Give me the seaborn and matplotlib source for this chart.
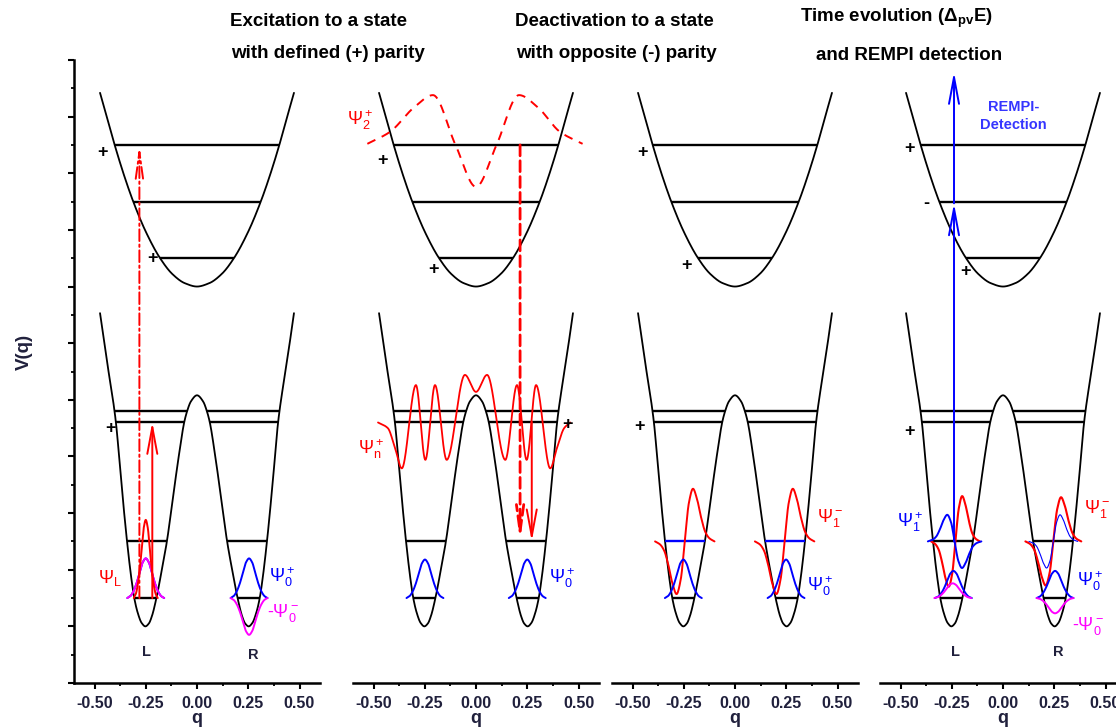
import matplotlib
matplotlib.use("Agg")
import matplotlib.pyplot as plt
import numpy as np
import seaborn as sns

# ---------------- values (q on x, V on y, 0..11) ----------------
# double-well potential, left half (mirrored for the right half)
dw_q_half = [-0.473, -0.44, -0.403, -0.394, -0.37, -0.341, -0.32, -0.306, -0.29, -0.27,
             -0.252, -0.235, -0.22, -0.198, -0.175, -0.146, -0.12, -0.09, -0.062, -0.049, -0.03, 0.0]
dw_v_half = [6.53, 5.70, 4.82, 4.55, 3.57, 2.49, 1.84, 1.50, 1.25, 1.06,
             1.00, 1.05, 1.18, 1.50, 1.93, 2.52, 3.20, 3.98, 4.61, 4.79, 4.97, 5.08]
# upper (excited) single well, left half
uw_q_half = [-0.473, -0.44, -0.40, -0.35, -0.311, -0.25, -0.18, -0.12, -0.06, 0.0]
uw_v_half = [10.42, 10.00, 9.48, 8.90, 8.50, 7.97, 7.50, 7.22, 7.06, 7.00]

lo_levels = [1.5, 2.5, 4.61, 4.80]
up_levels = [7.5, 8.5, 9.5]
blue_level_panel = 2
blue_level_E = 2.5

# shape of a ground-state lobe and of a first-excited lobe (relative to peak)
p0_dq = [-0.09, -0.075, -0.06, -0.045, -0.03, -0.015, 0.0, 0.015, 0.03, 0.045, 0.06, 0.075, 0.09]
p0_rel = [0.0, 0.05, 0.17, 0.37, 0.64, 0.90, 1.0, 0.90, 0.64, 0.37, 0.17, 0.05, 0.0]
p1_dq = [-0.145, -0.12, -0.10, -0.08, -0.06, -0.04, -0.02, 0.0, 0.02, 0.04, 0.06, 0.08, 0.10, 0.12, 0.145]
p1_rel = [0.0, -0.06, -0.18, -0.45, -0.80, -1.0, -0.73, 0.0, 0.73, 1.0, 0.80, 0.45, 0.18, 0.06, 0.0]

RED, BLUE, MAG = "#ff0000", "#0000ff", "#ff00ff"

# wave lobes: panel, shape, centre, baseline, amplitude, width factor, colour, lw
wave_panel = [0, 0, 0, 0, 0, 1, 1, 2, 2, 2, 2, 3, 3, 3, 3, 3, 3, 3, 3]
wave_shape = ["s0", "s0", "s0", "s0", "s0", "s0", "s0", "s1", "s1", "s0", "s0",
              "s1", "s1", "s1", "s1", "s0", "s0", "s0", "s0"]
wave_c = [-0.25, 0.254, -0.25, 0.254, -0.25, -0.249, 0.25, -0.245, 0.242, -0.252, 0.249,
          -0.232, 0.2455, -0.236, 0.2455, -0.242, 0.254, -0.245, 0.254]
wave_base = [1.5, 1.5, 1.5, 1.5, 1.5, 1.5, 1.5, 2.5, 2.5, 1.5, 1.5,
             2.5, 2.5, 2.5, 2.5, 1.5, 1.5, 1.5, 1.5]
wave_amp = [0.70, 0.70, 0.70, -0.65, 1.38, 0.68, 0.68, 0.93, 0.93, 0.68, 0.68,
            0.80, 0.78, -0.47, 0.47, 0.48, 0.48, 0.26, -0.27]
wave_w = [1.0, 1.0, 1.0, 1.0, 0.65, 1.0, 1.0, 1.0, 1.0, 1.0, 1.0,
          0.82, 0.94, 0.90, 0.82, 1.0, 1.0, 1.0, 1.0]
wave_col = [BLUE, BLUE, MAG, MAG, RED, BLUE, BLUE, RED, RED, BLUE, BLUE,
            RED, RED, BLUE, BLUE, BLUE, BLUE, MAG, MAG]
wave_lw = [1.4, 1.4, 1.4, 1.4, 1.4, 1.4, 1.4, 1.4, 1.4, 1.4, 1.4,
           1.5, 1.5, 1.4, 0.8, 1.4, 1.4, 1.4, 1.4]

# highly excited delocalised state (panel 2) and dashed Psi_2 (panel 2, upper well)
psin_q = [-0.478, -0.43, -0.395, -0.362, -0.293, -0.247, -0.2, -0.143, -0.054, 0.0,
          0.054, 0.143, 0.2, 0.247, 0.293, 0.362, 0.395, 0.43, 0.46]
psin_v = [4.60, 4.50, 4.15, 3.79, 5.26, 3.94, 5.26, 3.94, 5.44, 5.14,
          5.44, 3.94, 5.26, 3.94, 5.26, 3.79, 4.15, 4.50, 4.60]
psi2_q = [-0.53, -0.42, -0.30, -0.21, -0.10, 0.0, 0.10, 0.21, 0.30, 0.41, 0.52]
psi2_v = [9.52, 9.73, 10.17, 10.38, 9.50, 8.76, 9.50, 10.38, 10.17, 9.73, 9.52]

# transitions
arr_panel = [0, 0, 1, 1, 3, 3]
arr_q = [-0.281, -0.218, 0.215, 0.272, -0.239, -0.239]
arr_v0 = [1.5, 1.5, 9.5, 4.61, 2.5, 8.47]
arr_v1 = [9.5, 4.61, 2.5, 2.5, 8.47, 10.79]
arr_col = [RED, RED, RED, RED, BLUE, BLUE]
arr_ls = ["dashdot", "solid", "dashed", "solid", "solid", "solid"]

# parity signs
sign_panel = [0, 0, 0, 1, 1, 1, 2, 2, 2, 3, 3, 3, 3]
sign_q = [-0.463, -0.215, -0.424, -0.457, -0.205, 0.447, -0.449, -0.239, -0.467,
          -0.454, -0.372, -0.185, -0.454]
sign_v = [9.36, 7.49, 4.50, 9.23, 7.30, 4.57, 9.36, 7.38, 4.53, 9.44, 8.47, 7.26, 4.44]
sign_txt = ["+", "+", "+", "+", "+", "+", "+", "+", "+", "+", "-", "+", "+"]

# wavefunction labels
psi_panel = [0, 0, 0, 1, 1, 1, 2, 2, 3, 3, 3, 3]
psi_q = [-0.483, 0.351, 0.341, -0.629, -0.576, 0.356, 0.400, 0.351, -0.519, 0.395, 0.360, 0.335]
psi_v = [1.77, 1.78, 1.17, 9.85, 4.04, 1.77, 2.84, 1.62, 2.75, 3.00, 1.71, 0.94]
psi_txt = [r"$\Psi_\mathrm{L}$", r"$\Psi_0^+$", r"-$\Psi_0^-$", r"$\Psi_2^+$", r"$\Psi_\mathrm{n}^+$",
           r"$\Psi_0^+$", r"$\Psi_1^-$", r"$\Psi_0^+$", r"$\Psi_1^+$", r"$\Psi_1^-$",
           r"$\Psi_0^+$", r"-$\Psi_0^-$"]
psi_col = [RED, BLUE, MAG, RED, RED, BLUE, RED, BLUE, BLUE, RED, BLUE, MAG]

lr_panel = [0, 0, 3, 3]
lr_q = [-0.246, 0.273, -0.234, 0.27]
lr_v = [0.556, 0.49, 0.55, 0.55]
lr_txt = ["L", "R", "L", "R"]

titles = [("Excitation to a state", 319, 22), ("with defined (+) parity", 328, 53),
          ("Deactivation to a state", 614, 22), ("with opposite (-) parity", 616, 53),
          (r"Time evolution ($\mathbf{\Delta_{pv}}$E)", 896, 18), ("and REMPI detection", 909, 55)]
xticks = [-0.5, -0.25, 0.0, 0.25, 0.5]
xticklabels = ["-0.50", "-0.25", "0.00", "0.25", "0.50"]

# ---------------- layout ----------------
W, H = 1116, 728
panel_cx = [197, 476, 735, 1003]
PX_Q = 205.0
NAVY = "#20203c"

sns.set_theme(style="white")
plt.rcParams["font.family"] = ["Liberation Sans", "DejaVu Sans"]
plt.rcParams.update({"mathtext.fontset": "custom", "mathtext.rm": "Liberation Sans",
                     "mathtext.it": "Liberation Sans:italic", "mathtext.bf": "Liberation Sans:bold"})


def smooth(xk, yk, n=600):
    """monotone cubic (pchip) line through the read points"""
    xk = np.asarray(xk, float); yk = np.asarray(yk, float)
    h = np.diff(xk); d = np.diff(yk) / h
    m = np.zeros_like(yk)
    m[0], m[-1] = d[0], d[-1]
    for k in range(1, len(xk) - 1):
        if d[k - 1] * d[k] > 0:
            w1, w2 = 2 * h[k] + h[k - 1], h[k] + 2 * h[k - 1]
            m[k] = (w1 + w2) / (w1 / d[k - 1] + w2 / d[k])
    x = np.linspace(xk[0], xk[-1], n)
    i = np.clip(np.searchsorted(xk, x, side="right") - 1, 0, len(h) - 1)
    t = (x - xk[i]) / h[i]
    y = ((2 * t**3 - 3 * t**2 + 1) * yk[i] + (t**3 - 2 * t**2 + t) * h[i] * m[i]
         + (-2 * t**3 + 3 * t**2) * yk[i + 1] + (t**3 - t**2) * h[i] * m[i + 1])
    return x, y


def curve(ax, x, y, color, lw, z=3, dashes=None):
    sns.lineplot(x=x, y=y, ax=ax, color=color, lw=lw, sort=False, estimator=None,
                 legend=False, zorder=z)
    ln = ax.lines[-1]
    if dashes is not None:
        ln.set_dashes(dashes)
    return ln


def mirror(qh, vh):
    return qh + [-q for q in reversed(qh[:-1])], vh + list(reversed(vh[:-1]))


dwq, dwv = smooth(*mirror(dw_q_half, dw_v_half), n=2400)
uwq, uwv = smooth(*mirror(uw_q_half, uw_v_half), n=1200)


def level_spans(qc, vc, E):
    """segments of the level E lying inside the well"""
    inside = vc <= E
    spans, start = [], None
    for j, f in enumerate(inside):
        if f and start is None:
            start = j
        if (not f or j == len(inside) - 1) and start is not None:
            end = j if f else j - 1
            spans.append((qc[start], qc[end]))
            start = None
    return spans


profiles = {"s0": (p0_dq, p0_rel), "s1": (p1_dq, p1_rel)}

fig = plt.figure(figsize=(W / 100, H / 100), dpi=100)
axes = []
for p, cx in enumerate(panel_cx):
    ax = fig.add_axes([(cx - 0.6 * PX_Q) / W, 45 / H, 1.2 * PX_Q / W, 623 / H])
    ax.set_xlim(-0.6, 0.6); ax.set_ylim(0, 11)
    ax.set_facecolor("none")
    for s in ["top", "right"]:
        ax.spines[s].set_visible(False)
    for s in ["left", "bottom"]:
        ax.spines[s].set_color("black"); ax.spines[s].set_linewidth(1.8)
    ax.set_xticks(xticks); ax.set_xticklabels(xticklabels)
    ax.set_xticks([-0.375, -0.125, 0.125, 0.375], minor=True)
    ax.tick_params(axis="x", which="major", direction="out", length=4.5, width=1.5,
                   color="black", labelsize=11.5, labelcolor=NAVY, pad=5, bottom=True)
    ax.tick_params(axis="x", which="minor", direction="out", length=2.2, width=1.3,
                   color="black", bottom=True)
    for lab in ax.get_xticklabels():
        lab.set_fontweight("bold")
    ax.set_xlabel("q", fontsize=13, fontweight="bold", color=NAVY, labelpad=-1)
    if p == 0:
        ax.set_yticks(np.arange(0, 12)); ax.set_yticklabels([])
        ax.set_yticks(np.arange(0.5, 11, 1.0), minor=True)
        ax.tick_params(axis="y", which="major", direction="out", length=4.5, width=1.5,
                       color="black", left=True)
        ax.tick_params(axis="y", which="minor", direction="out", length=2.2, width=1.3,
                       color="black", left=True)
    else:
        ax.spines["left"].set_visible(False)
        ax.tick_params(axis="y", left=False, labelleft=False)
        ax.set_yticks([])
    ax.grid(False)

    # potentials and vibrational levels
    curve(ax, dwq, dwv, "black", 1.3, z=2)
    curve(ax, uwq, uwv, "black", 1.3, z=2)
    for E in lo_levels:
        col = BLUE if (p == blue_level_panel and E == blue_level_E) else "black"
        for a, b in level_spans(dwq, dwv, E):
            ax.hlines(E, a, b, color=col, lw=1.7, zorder=2.5)
    for E in up_levels:
        for a, b in level_spans(uwq, uwv, E):
            ax.hlines(E, a, b, color="black", lw=1.7, zorder=2.5)
    axes.append(ax)

# wave lobes
for k in range(len(wave_panel)):
    dq, rel = profiles[wave_shape[k]]
    xk = [wave_c[k] + wave_w[k] * d for d in dq]
    yk = [wave_base[k] + wave_amp[k] * r for r in rel]
    x, y = smooth(xk, yk, 300)
    curve(axes[wave_panel[k]], x, y, wave_col[k], wave_lw[k], z=3 + 0.01 * k)

x, y = smooth(psin_q, psin_v, 1500)
curve(axes[1], x, y, RED, 1.3, z=3.2)
x, y = smooth(psi2_q, psi2_v, 800)
curve(axes[1], x, y, RED, 1.4, z=3.2, dashes=(4.6, 3.6))

# transitions
for k in range(len(arr_panel)):
    ax = axes[arr_panel[k]]
    ls = {"dashdot": (0, (6, 1.8, 1.2, 1.8)), "dashed": (0, (3.9, 1.8)), "solid": "-"}[arr_ls[k]]
    lw = 2.0 if arr_ls[k] == "dashed" else 1.4
    hw = 0.22 if arr_ls[k] != "solid" else 0.3
    ax.annotate("", xy=(arr_q[k], arr_v1[k]), xytext=(arr_q[k], arr_v0[k]),
                arrowprops=dict(arrowstyle=f"->,head_length=1.6,head_width={hw}",
                                color=arr_col[k], lw=lw, linestyle=ls,
                                shrinkA=0, shrinkB=0),
                annotation_clip=False, zorder=4)

# text
for k in range(len(sign_panel)):
    axes[sign_panel[k]].text(sign_q[k], sign_v[k], sign_txt[k], ha="center", va="center",
                             fontsize=13, fontweight="bold", color="black", zorder=5)
for k in range(len(psi_panel)):
    axes[psi_panel[k]].text(psi_q[k], psi_v[k], psi_txt[k], ha="left", va="baseline",
                            fontsize=13, color=psi_col[k], zorder=5)
for k in range(len(lr_panel)):
    axes[lr_panel[k]].text(lr_q[k], lr_v[k], lr_txt[k], ha="center", va="center",
                           fontsize=10.5, fontweight="bold", color=NAVY, zorder=5)
axes[3].text(0.05, 10.17, "REMPI-", ha="center", va="center", fontsize=10.5,
             fontweight="bold", color="#3535ff")
axes[3].text(0.05, 9.85, "Detection", ha="center", va="center", fontsize=10.5,
             fontweight="bold", color="#3535ff")

for txt, x, y in titles:
    fig.text(x / W, 1 - y / H, txt, ha="center", va="center", fontsize=13.5,
             fontweight="bold", color="black")
fig.text(24 / W, 1 - 352 / H, "V(q)", rotation=90, ha="center", va="center",
         fontsize=13.5, fontweight="bold", color=NAVY)

fig.savefig("out.png", dpi=100, facecolor="white")
plt.close(fig)
